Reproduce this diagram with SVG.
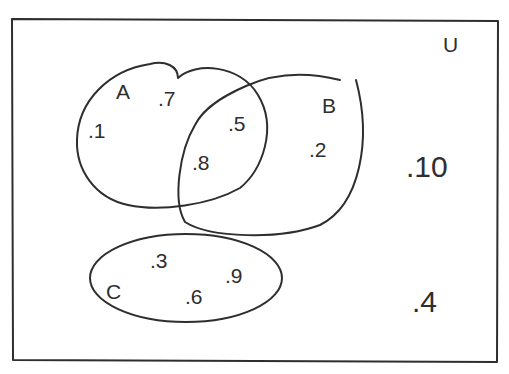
<svg xmlns="http://www.w3.org/2000/svg" width="509" height="374" viewBox="0 0 509 374">
<style>
.ln{fill:none;stroke:#2e2e2e;stroke-width:2;stroke-linecap:round;stroke-linejoin:round}
.t{font-family:"Liberation Sans",Arial,sans-serif;fill:#2e2e2e;font-size:21px}
.big{font-size:30px}
</style>
<rect width="509" height="374" fill="#ffffff"/>
<g id="universe">
<path class="ln" d="M12,19 L498,21 L497,362 L13,360 Z"/>
<text class="t" x="443" y="52">U</text>
<text class="t big" x="406" y="177">.10</text>
<text class="t big" x="412" y="312">.4</text>
</g>
<g id="setA">
<path class="ln" d="M150,64 C165,60 178,66 178,78 C195,62 240,64 258,95 C278,128 262,170 240,188 C210,205 160,212 128,205 C95,198 76,170 77,140 C78,100 110,70 150,64 Z"/>
<text class="t" x="116" y="99">A</text>
<text class="t" x="158" y="106">.7</text>
<text class="t" x="88" y="138">.1</text>
</g>
<g id="setB">
<path class="ln" d="M340,80 C300,70 270,75 246,86 C230,93 205,105 195,125 C180,150 172,200 185,222 C210,238 280,240 320,225 C360,205 372,140 356,80"/>
<text class="t" x="322" y="113">B</text>
<text class="t" x="309" y="157">.2</text>
<text class="t" x="228" y="131">.5</text>
<text class="t" x="192" y="170">.8</text>
</g>
<g id="setC">
<ellipse class="ln" cx="186" cy="278" rx="96" ry="44"/>
<text class="t" x="106" y="299">C</text>
<text class="t" x="150" y="268">.3</text>
<text class="t" x="185" y="304">.6</text>
<text class="t" x="225" y="283">.9</text>
</g>
</svg>
